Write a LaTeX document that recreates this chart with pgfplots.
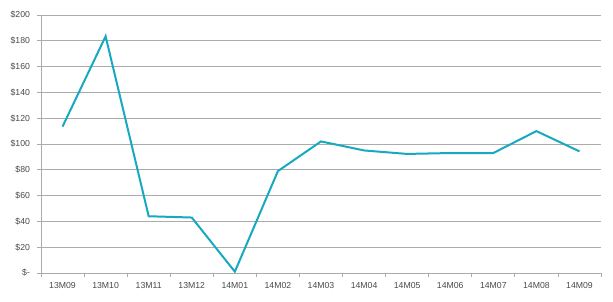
\documentclass[border=0pt]{standalone}
\usepackage{pgfplots}
\pgfplotsset{compat=1.18}
\usepackage{fontspec}
\setmainfont{Liberation Sans}
\definecolor{linec}{HTML}{17A9C0}
\definecolor{gridc}{HTML}{ABABAB}
\definecolor{textc}{HTML}{4A4A4A}
\begin{document}
\begin{tikzpicture}
\useasboundingbox (-41pt,-28pt) rectangle (572pt,273pt);
\begin{axis}[
  at={(0,0)}, anchor=south west,
  scale only axis,
  width=560pt, height=258pt,
  xmin=-0.5, xmax=12.5,
  ymin=0, ymax=200,
  axis line style={gridc, line width=0.8pt},
  axis x line*=bottom,
  axis y line*=left,
  xtick={0,...,12},
  xticklabels={13M09,13M10,13M11,13M12,14M01,14M02,14M03,14M04,14M05,14M06,14M07,14M08,14M09},
  major x tick style={draw=none},
  minor xtick={-0.5,0.5,...,12.5},
  minor x tick style={gridc, line width=0.8pt},
  minor tick length=3.5pt,
  ytick={0,20,...,200},
  yticklabels={\$-,\$20,\$40,\$60,\$80,\$100,\$120,\$140,\$160,\$180,\$200},
  ymajorgrids,
  grid style={gridc, line width=0.8pt},
  major y tick style={gridc, line width=0.8pt},
  major tick length=3.5pt,
  tick align=outside,
  tick label style={font=\fontsize{8.7}{10}\selectfont, text=textc},
  xticklabel style={yshift=-2pt},
  yticklabel style={xshift=-4pt},
  /pgf/number format/assume math mode=true,
  clip=false,
]
\addplot[linec, line width=2pt, line join=miter, mark=none] coordinates {
  (0,113.5) (1,183.5) (2,44) (3,43) (4,1) (5,79) (6,102) (7,95) (8,92.3) (9,93) (10,93) (11,110) (12,94.3)
};
\end{axis}
\end{tikzpicture}
\end{document}
